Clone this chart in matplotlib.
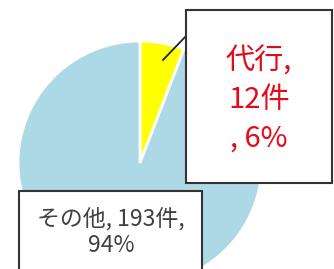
import matplotlib
matplotlib.use('Agg')
import matplotlib.pyplot as plt
from matplotlib.patches import Rectangle

plt.rcParams['font.family'] = ['Noto Sans CJK JP', 'DejaVu Sans']

# data
labels = ['代行', 'その他']
counts = [12, 193]
percents = [6, 94]
colors = ['#FFFF00', '#ADD8E6']

W, H = 334, 269
fig = plt.figure(figsize=(W / 100, H / 100), dpi=100)
ax = fig.add_axes([0, 0, 1, 1])
ax.axis('off')

# pie, clockwise from the top
ax.pie(counts, colors=colors, startangle=90, counterclock=False,
       center=(140, H - 163), radius=122,
       wedgeprops=dict(edgecolor='white', linewidth=2))
ax.set_xlim(0, W)
ax.set_ylim(0, H)
ax.set_aspect('auto')

# leader line for the small slice
ax.plot([163, 187], [H - 60, H - 35], color='#222222', lw=1.3, zorder=3)

# label box for the small slice
ax.add_patch(Rectangle((186, H - 183), 146, 173, facecolor='white',
                       edgecolor='#333333', lw=1.5, zorder=4))
ax.text(259, H - 100, f'{labels[0]},\n{counts[0]}件\n, {percents[0]}%',
        color='#E30B17', fontsize=21, ha='center', va='center',
        linespacing=1.35, zorder=5)

# label box for the big slice
ax.add_patch(Rectangle((19, -5), 183, H - 191 + 5, facecolor='white',
                       edgecolor='#333333', lw=1.5, zorder=4))
ax.text(111, H - 232, f'{labels[1]}, {counts[1]}件,\n{percents[1]}%',
        color='#404040', fontsize=16.5, ha='center', va='center',
        linespacing=1.2, zorder=5)

fig.savefig('out.png', dpi=100)
